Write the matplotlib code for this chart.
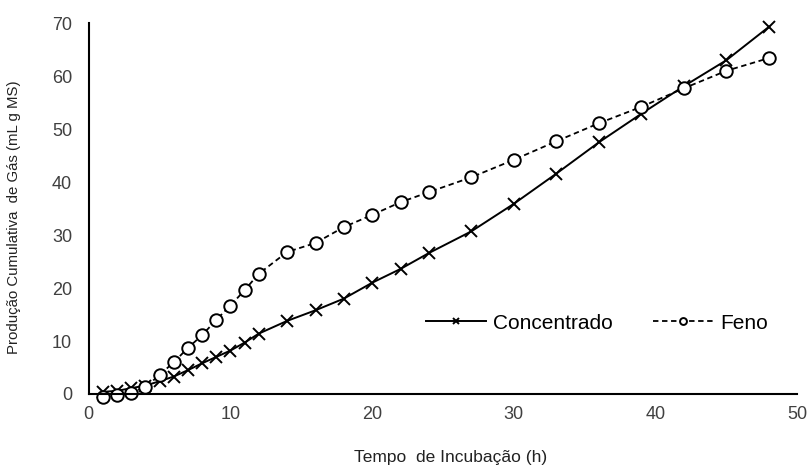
import matplotlib
matplotlib.use("Agg")
import matplotlib.pyplot as plt
from matplotlib import font_manager

# incubation times (h)
tempo = [1, 2, 3, 4, 5, 6, 7, 8, 9, 10, 11, 12, 14, 16, 18, 20, 22, 24,
         27, 30, 33, 36, 39, 42, 45, 48]

# cumulative gas production (mL g MS)
concentrado = [0.4, 0.6, 1.1, 1.6, 2.4, 3.3, 4.5, 5.8, 7.0, 8.2, 9.7, 11.4,
               13.8, 15.8, 18.0, 21.0, 23.6, 26.6, 30.7, 35.9, 41.6, 47.5,
               52.9, 58.1, 63.0, 69.3]
feno = [-0.5, -0.2, 0.2, 1.3, 3.6, 6.0, 8.7, 11.1, 14.0, 16.7, 19.6, 22.7,
        26.8, 28.5, 31.5, 33.8, 36.2, 38.1, 40.9, 44.2, 47.7, 51.1, 54.2,
        57.7, 61.0, 63.4]

plt.rcParams['font.family'] = ['Liberation Sans', 'DejaVu Sans']

# narrow face for the y label if it is there
names = {f.name for f in font_manager.fontManager.ttflist}
if 'Liberation Sans Narrow' in names:
    ylab_family, ylab_size = ['Liberation Sans Narrow', 'DejaVu Sans'], 13
else:
    ylab_family, ylab_size = ['Liberation Sans', 'DejaVu Sans'], 10.8

fig = plt.figure(figsize=(8.07, 4.71), dpi=100)
ax = fig.add_axes([0.110, 0.1635, 0.878, 0.7875])

ax.plot(tempo, concentrado, color="black", linewidth=1.4, marker="x",
        markersize=9, markeredgewidth=1.4, clip_on=False, label="Concentrado")
ax.plot(tempo, feno, color="black", linewidth=1.3, linestyle=(0, (3, 2)),
        marker="o", markersize=9, markerfacecolor="white",
        markeredgewidth=1.4, clip_on=False, label="Feno")

ax.set_xlim(0, 50)
ax.set_ylim(0, 70)
ax.set_xticks(range(0, 51, 10))
ax.set_yticks(range(0, 71, 10))
ax.tick_params(length=0, labelsize=13, labelcolor="#404040")
ax.tick_params(axis="x", pad=9)
ax.tick_params(axis="y", pad=12)

for side in ["top", "right"]:
    ax.spines[side].set_visible(False)
for side in ["left", "bottom"]:
    ax.spines[side].set_linewidth(1.5)

ax.set_xlabel("Tempo  de Incubação (h)", fontsize=12.5, color="#222222")
ax.xaxis.set_label_coords(0.51, -0.15)
ax.set_ylabel("Produção Cumulativa  de Gás (mL g MS)", fontsize=ylab_size,
              family=ylab_family, color="#222222")
ax.yaxis.set_label_coords(-0.095, 0.477)

ax.legend(loc="center", bbox_to_anchor=(0.717, 0.191), ncol=2, frameon=False,
          fontsize=15, handlelength=2.9, columnspacing=1.9,
          markerscale=0.55, handletextpad=0.35)

fig.savefig("out.png", dpi=100)
